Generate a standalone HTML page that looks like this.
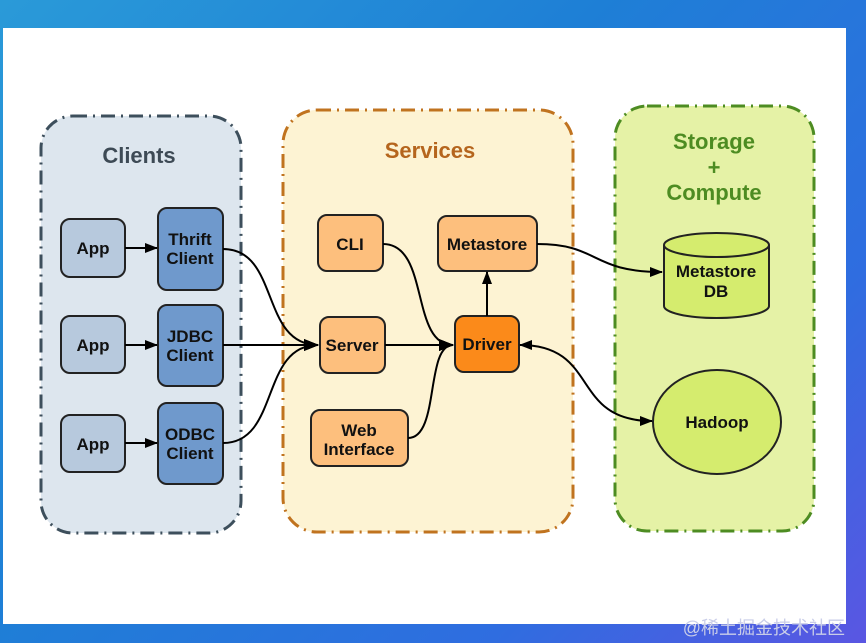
<!DOCTYPE html>
<html><head><meta charset="utf-8"><style>
html,body{margin:0;padding:0;width:866px;height:643px;overflow:hidden;background:linear-gradient(135deg,#2a9ad8 0%,#1e7fd6 40%,#2f6de0 75%,#5a56e2 100%);}
svg{position:absolute;left:0;top:0}
text{font-family:"Liberation Sans",Arial,sans-serif;font-weight:bold;text-anchor:middle}
</style></head><body>
<svg width="866" height="643" viewBox="0 0 866 643">
<defs>
<marker id="a" markerWidth="13" markerHeight="12" refX="12" refY="6" orient="auto-start-reverse" markerUnits="userSpaceOnUse"><path d="M0,1 L13,6 L0,11 z" fill="#000"/></marker>
<marker id="b" markerWidth="15" markerHeight="14" refX="14" refY="7" orient="auto-start-reverse" markerUnits="userSpaceOnUse"><path d="M0,1 L15,7 L0,13 z" fill="#000"/></marker>
</defs>
<rect x="3" y="28" width="843" height="596" fill="#fff"/>
<text x="845" y="634" font-size="18" fill="#c9cde8" style="font-weight:normal;text-anchor:end;font-family:'Liberation Sans','Noto Sans CJK SC',sans-serif">@稀土掘金技术社区</text>

<rect x="41" y="116" width="200" height="417" rx="32" fill="#dde6ee" stroke="#3d4f5c" stroke-width="3" stroke-dasharray="14 6 2 6"/>
<rect x="283" y="110" width="290" height="422" rx="34" fill="#fdf3d3" stroke="#c0731f" stroke-width="3" stroke-dasharray="14 6 2 6"/>
<rect x="615" y="106" width="199" height="425" rx="32" fill="#e5f2a6" stroke="#4d8c22" stroke-width="3" stroke-dasharray="14 6 2 6"/>

<text x="139" y="163" font-size="22" fill="#3d4a55">Clients</text>
<text x="430" y="158" font-size="22" fill="#b5651d">Services</text>
<g font-size="22" fill="#4d8c22"><text x="714" y="149">Storage</text><text x="714" y="175">+</text><text x="714" y="200">Compute</text></g>

<g stroke="#222" stroke-width="2">
<rect x="61" y="219" width="64" height="58" rx="9" fill="#b7c9dd"/>
<rect x="61" y="316" width="64" height="57" rx="9" fill="#b7c9dd"/>
<rect x="61" y="415" width="64" height="57" rx="9" fill="#b7c9dd"/>
<rect x="158" y="208" width="65" height="82" rx="9" fill="#6f99cc"/>
<rect x="158" y="305" width="65" height="81" rx="9" fill="#6f99cc"/>
<rect x="158" y="403" width="65" height="81" rx="9" fill="#6f99cc"/>
<rect x="318" y="215" width="65" height="56" rx="9" fill="#fdbf7d"/>
<rect x="320" y="317" width="65" height="56" rx="9" fill="#fdbf7d"/>
<rect x="311" y="410" width="97" height="56" rx="9" fill="#fdbf7d"/>
<rect x="438" y="216" width="99" height="55" rx="9" fill="#fdbf7d"/>
<rect x="455" y="316" width="64" height="56" rx="9" fill="#fb8a1a"/>
<path d="M664,245 L664,306 A52.5,12 0 0 0 769,306 L769,245" fill="#d5ec6e"/>
<ellipse cx="716.5" cy="245" rx="52.5" ry="12" fill="#d5ec6e"/>
<ellipse cx="717" cy="422" rx="64" ry="52" fill="#d5ec6e"/>
</g>

<g font-size="17" fill="#111">
<text x="93" y="254">App</text><text x="93" y="351">App</text><text x="93" y="450">App</text>
<text x="190" y="245">Thrift</text><text x="190" y="264">Client</text>
<text x="190" y="342">JDBC</text><text x="190" y="361">Client</text>
<text x="190" y="440">ODBC</text><text x="190" y="459">Client</text>
<text x="350" y="250">CLI</text>
<text x="352" y="351">Server</text>
<text x="359" y="436">Web</text><text x="359" y="455">Interface</text>
<text x="487" y="250">Metastore</text>
<text x="487" y="350">Driver</text>
<text x="716" y="277">Metastore</text><text x="716" y="297">DB</text>
<text x="717" y="428">Hadoop</text>
</g>

<g fill="none" stroke="#000" stroke-width="2">
<line x1="125" y1="248" x2="157" y2="248" marker-end="url(#a)"/>
<line x1="125" y1="345" x2="157" y2="345" marker-end="url(#a)"/>
<line x1="125" y1="443" x2="157" y2="443" marker-end="url(#a)"/>
<path d="M223,249 C280,249 260,345 318,345" marker-end="url(#b)"/>
<line x1="223" y1="345" x2="318" y2="345" marker-end="url(#b)"/>
<path d="M223,443 C280,443 260,345 318,345" marker-end="url(#b)"/>
<path d="M383,244 C430,244 410,345 453,345" marker-end="url(#b)"/>
<line x1="385" y1="345" x2="453" y2="345" marker-end="url(#b)"/>
<path d="M408,438 C440,438 425,345 453,345" marker-end="url(#b)"/>
<line x1="487" y1="316" x2="487" y2="272" marker-end="url(#a)"/>
<path d="M537,244 C600,244 590,272 662,272" marker-end="url(#a)"/>
<path d="M520,345 C600,345 570,421 652,421" marker-start="url(#a)" marker-end="url(#a)"/>
</g>
</svg>
</body></html>
